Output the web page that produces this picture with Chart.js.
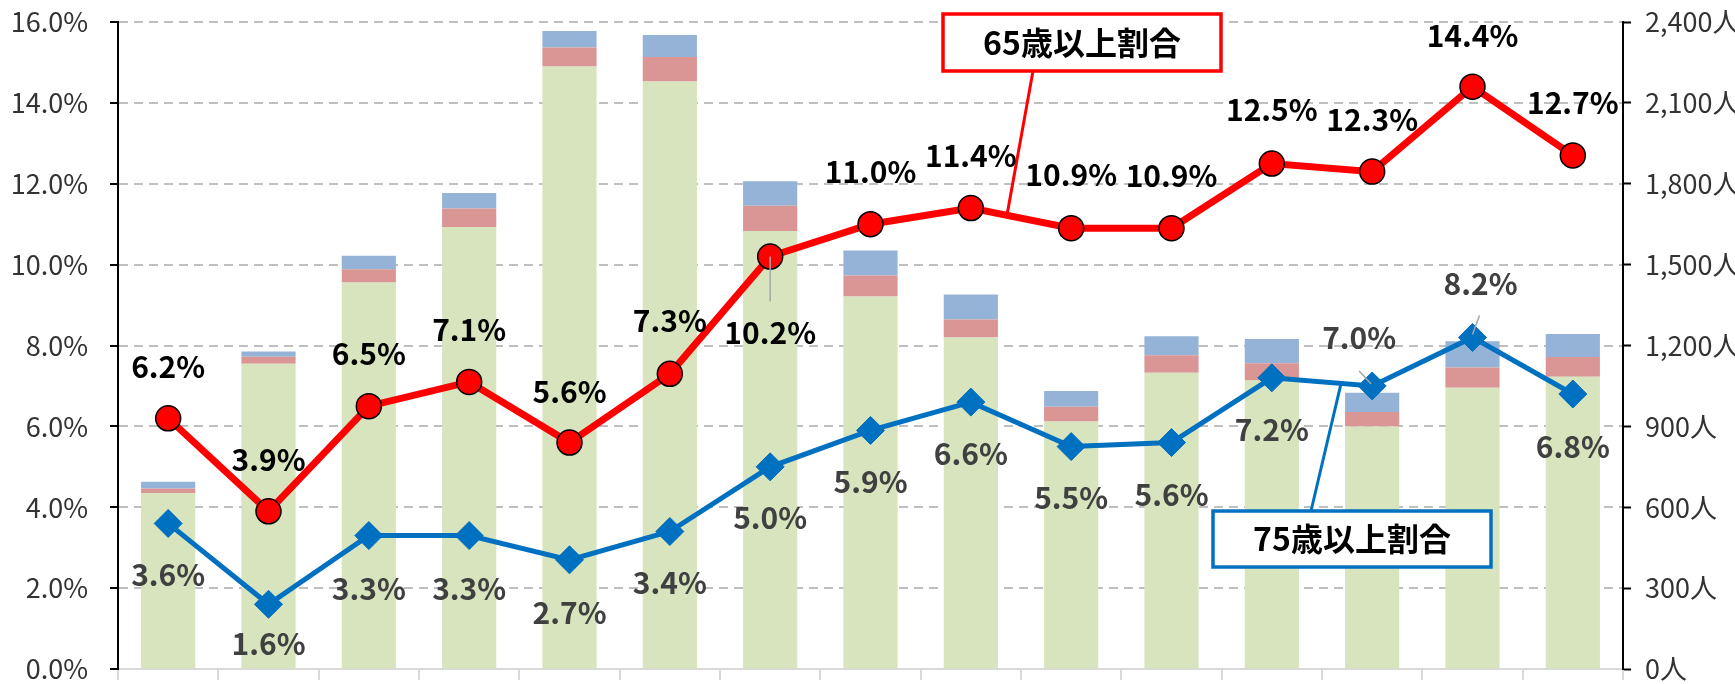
<!DOCTYPE html>
<html lang="ja">
<head>
<meta charset="utf-8">
<script src="https://cdn.jsdelivr.net/npm/chart.js@4.4.1/dist/chart.umd.min.js"></script>
<style>
  html, body { margin: 0; padding: 0; background: #fff; }
  #wrap { width: 1735px; height: 684px; position: relative; }
</style>
</head>
<body>
<div id="wrap"><canvas id="chart"></canvas></div>
<script>
// ─── データ ─────────────────────────────────────────
const CATEGORIES  = ['1','2','3','4','5','6','7','8','9','10','11','12','13','14','15'];

// 人数（右軸）: 下から 緑・赤・青
const COUNT_GREEN = [653, 1132, 1434, 1640, 2235, 2179, 1625, 1382, 1230, 918, 1099, 1070, 900, 1043, 1084];
const COUNT_PINK  = [17, 26, 49, 68, 70, 91, 93, 78, 66, 55, 65, 64, 53, 75, 73];
const COUNT_BLUE  = [25, 20, 50, 58, 62, 82, 91, 92, 93, 58, 70, 90, 72, 98, 86];

// 割合（左軸, %）
const RATE_65 = [6.2, 3.9, 6.5, 7.1, 5.6, 7.3, 10.2, 11.0, 11.4, 10.9, 10.9, 12.5, 12.3, 14.4, 12.7];
const RATE_75 = [3.6, 1.6, 3.3, 3.3, 2.7, 3.4, 5.0, 5.9, 6.6, 5.5, 5.6, 7.2, 7.0, 8.2, 6.8];

const PCT_TICKS    = [0, 2, 4, 6, 8, 10, 12, 14, 16];
const PEOPLE_TICKS = [0, 300, 600, 900, 1200, 1500, 1800, 2100, 2400];

// ラベル位置（点からのずれ, px）
const OFS_65 = [[0,-52],[0,-52],[0,-53],[0,-52],[0,-51],[0,-53],[0,76],[0,-53],[0,-52],[0,-54],[0,-53],[0,-54],[0,-52],[0,-51],[0,-53]];
const OFS_75 = [[0,51],[0,39],[0,53],[0,53],[0,53],[0,51],[0,51],[0,51],[0,51],[0,51],[0,52],[0,52],[-13,-48],[8,-54],[0,53]];

// ラベルの引き出し線 [dataset, index, dx1, dy1, dx2, dy2]
const LABEL_LEADERS = [
  [0, 6, 0, 0, 0, 45],
  [1, 12, -13, -15, -1, -2],
  [1, 13, 7, -22, 0, -3],
];

const FONT = '"Noto Sans CJK JP", "Noto Sans", sans-serif';

const fmtPct = v => v.toFixed(1) + '%';

// ─── ラベル・吹き出し ───────────────────────────────
function along(meta, i, t) {
  const a = meta.data[i], b = meta.data[i + 1];
  return { x: a.x + (b.x - a.x) * t, y: a.y + (b.y - a.y) * t };
}

function callout(ctx, box, from, to, color, text) {
  ctx.save();
  ctx.strokeStyle = color;
  ctx.lineWidth = 3;
  ctx.beginPath();
  ctx.moveTo(from.x, from.y);
  ctx.lineTo(to.x, to.y);
  ctx.stroke();
  ctx.fillStyle = '#fff';
  ctx.fillRect(box.x, box.y, box.w, box.h);
  ctx.lineWidth = 3.5;
  ctx.strokeRect(box.x, box.y, box.w, box.h);
  ctx.fillStyle = '#000';
  ctx.font = `bold 32px ${FONT}`;
  ctx.textAlign = 'center';
  ctx.textBaseline = 'middle';
  ctx.fillText(text, box.x + box.w / 2, box.y + box.h / 2);
  ctx.restore();
}

const labelPlugin = {
  id: 'labelPlugin',
  afterDatasetsDraw(chart) {
    const ctx = chart.ctx;
    const m65 = chart.getDatasetMeta(0);
    const m75 = chart.getDatasetMeta(1);

    callout(ctx, { x: 943, y: 14, w: 278, h: 57 }, { x: 1033, y: 71 }, along(m65, 8, 0.36), '#FF0000', '65歳以上割合');
    callout(ctx, { x: 1213, y: 511, w: 278, h: 56 }, { x: 1311, y: 511 }, along(m75, 11, 0.69), '#0070C0', '75歳以上割合');

    ctx.save();
    ctx.strokeStyle = '#A6A6A6';
    ctx.lineWidth = 1.5;
    LABEL_LEADERS.forEach(([ds, i, dx1, dy1, dx2, dy2]) => {
      const p = chart.getDatasetMeta(ds).data[i];
      ctx.beginPath();
      ctx.moveTo(p.x + dx1, p.y + dy1);
      ctx.lineTo(p.x + dx2, p.y + dy2);
      ctx.stroke();
    });

    ctx.font = `bold 30px ${FONT}`;
    ctx.textAlign = 'center';
    ctx.textBaseline = 'middle';
    ctx.fillStyle = '#000';
    m65.data.forEach((p, i) => {
      ctx.fillText(fmtPct(RATE_65[i]), p.x + OFS_65[i][0], p.y + OFS_65[i][1]);
    });
    ctx.fillStyle = '#404040';
    m75.data.forEach((p, i) => {
      ctx.fillText(fmtPct(RATE_75[i]), p.x + OFS_75[i][0], p.y + OFS_75[i][1]);
    });
    ctx.restore();
  },
};

// ─── グラフ ─────────────────────────────────────────
const tickFont = { family: FONT, size: 27, weight: '400' };

new Chart(document.getElementById('chart'), {
  data: {
    labels: CATEGORIES,
    datasets: [
      {
        type: 'line', label: '65歳以上割合', data: RATE_65, yAxisID: 'y', order: 0,
        borderColor: '#FF0000', borderWidth: 7, backgroundColor: '#FF0000',
        pointStyle: 'circle', pointRadius: 12.5, pointBorderColor: '#000',
        pointBorderWidth: 1.5, pointBackgroundColor: '#FF0000', tension: 0,
      },
      {
        type: 'line', label: '75歳以上割合', data: RATE_75, yAxisID: 'y', order: 0,
        borderColor: '#0070C0', borderWidth: 5, backgroundColor: '#0070C0',
        pointStyle: 'rectRot', pointRadius: 14, pointBorderColor: '#0070C0',
        pointBorderWidth: 1, pointBackgroundColor: '#0070C0', tension: 0,
      },
      { type: 'bar', data: COUNT_GREEN, yAxisID: 'y2', order: 1, backgroundColor: '#D7E4BD', stack: 's' },
      { type: 'bar', data: COUNT_PINK,  yAxisID: 'y2', order: 1, backgroundColor: '#D99694', stack: 's' },
      { type: 'bar', data: COUNT_BLUE,  yAxisID: 'y2', order: 1, backgroundColor: '#95B3D7', stack: 's' },
    ],
  },
  options: {
    responsive: true,
    maintainAspectRatio: false,
    animation: false,
    events: [],
    layout: { padding: { top: 22, left: 0, right: 0, bottom: 0 } },
    datasets: { bar: { categoryPercentage: 1, barPercentage: 0.54, borderWidth: 0 } },
    plugins: { legend: { display: false }, tooltip: { enabled: false } },
    scales: {
      x: {
        stacked: true,
        offset: true,
        grid: { offset: true, drawOnChartArea: false, drawTicks: true, tickLength: 11, color: '#D9D9D9', tickColor: '#D9D9D9', tickWidth: 2, lineWidth: 2 },
        border: { color: '#D9D9D9', width: 2 },
        ticks: { display: false },
        afterFit: s => { s.height = 11; s.paddingLeft = 0; s.paddingRight = 0; },
      },
      y: {
        position: 'left',
        min: 0, max: 16,
        afterBuildTicks: s => { s.ticks = PCT_TICKS.map(v => ({ value: v })); },
        grid: { color: '#BFBFBF', lineWidth: 2, tickColor: '#000', tickWidth: 2, tickLength: 8 },
        border: { color: '#000', width: 2, dash: [9, 6] },
        ticks: { color: '#333', font: tickFont, padding: 22, callback: v => fmtPct(v) },
        afterFit: s => { s.width = 118; s.paddingTop = 0; s.paddingBottom = 0; },
      },
      y2: {
        position: 'right',
        stacked: true,
        min: 0, max: 2400,
        afterBuildTicks: s => { s.ticks = PEOPLE_TICKS.map(v => ({ value: v })); },
        grid: { drawOnChartArea: false, tickColor: '#000', tickWidth: 2, tickLength: 8 },
        border: { color: '#000', width: 2 },
        ticks: { color: '#333', font: tickFont, padding: 14, callback: v => v.toLocaleString('en-US') + '人' },
        afterFit: s => { s.width = 112; s.paddingTop = 0; s.paddingBottom = 0; },
      },
    },
  },
  plugins: [labelPlugin],
});
</script>
</body>
</html>
